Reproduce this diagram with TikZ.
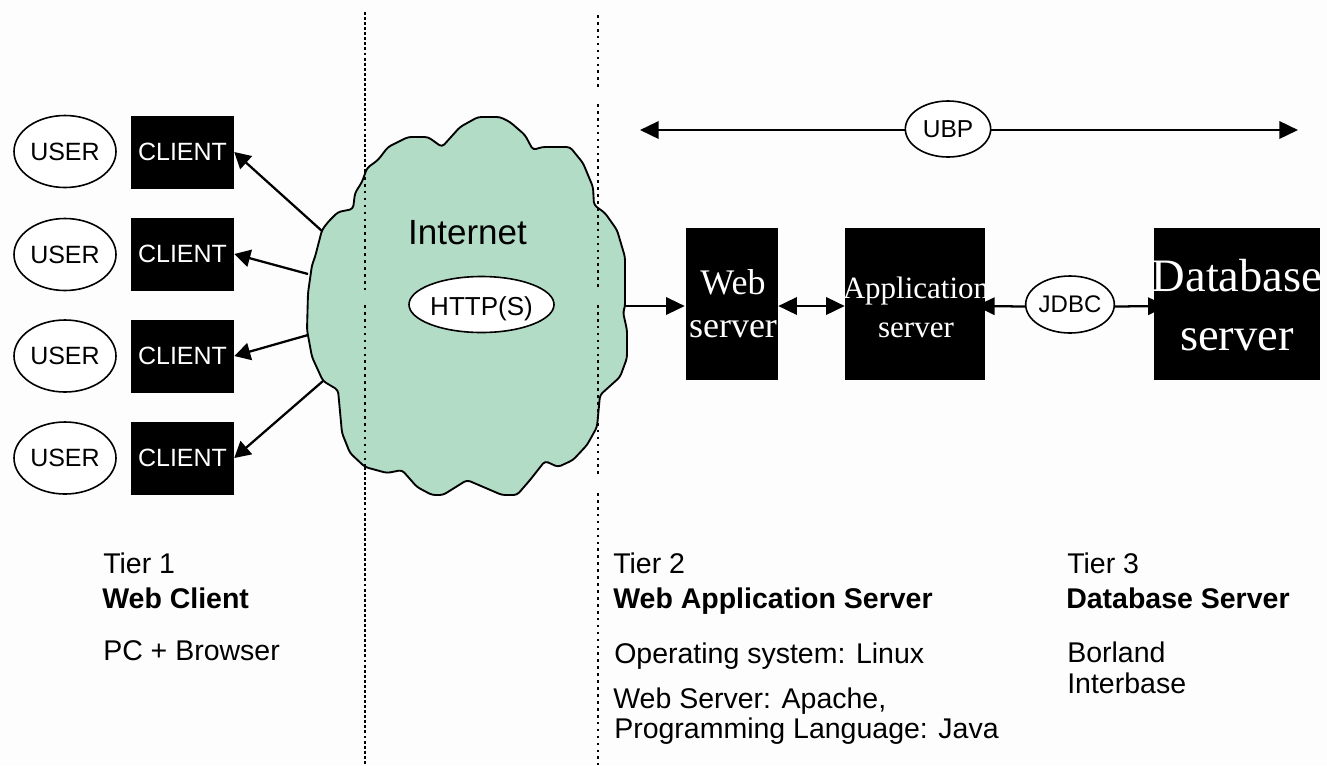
\documentclass[tikz,border=0pt]{standalone}
\usepackage{fontspec}
\setmainfont{Liberation Sans}
\newfontfamily\serifbox{Liberation Serif}
\usetikzlibrary{shapes.geometric,arrows.meta,calc}
\newcommand{\fsz}[1]{\fontsize{\dimexpr#1pt*3/4\relax}{\dimexpr#1pt*9/10\relax}\selectfont}
\definecolor{cloudgreen}{HTML}{B2DCC6}
\definecolor{paper}{HTML}{FDFDFD}
\tikzset{
  oval/.style={draw=black,line width=1.2pt,fill=white,ellipse,inner sep=0pt,text=black},
  blackbox/.style={draw=none,fill=black,rectangle,inner sep=0pt,text=white},
  clientbox/.style={blackbox,minimum width=77.25pt,minimum height=54.75pt,font=\fsz{25}},
  useroval/.style={oval,minimum width=76.5pt,minimum height=54pt,font=\fsz{25}},
  link/.style={line width=1.7pt,draw=black,-{Triangle[length=12pt,width=13pt]}},
  rowlink/.style={line width=1.7pt,draw=black,-{Triangle[length=14pt,width=13pt]}},
  biglink/.style={line width=1.9pt,draw=black,{Triangle[length=14pt,width=13pt]}-{Triangle[length=14pt,width=13pt]}},
  dividerwide/.style={draw=black,line width=1.6pt,dash pattern=on 2pt off 3.2pt},
  dividerdense/.style={draw=black,line width=1.6pt,dash pattern=on 2.2pt off 1.6pt},
  caption/.style={anchor=base west,inner sep=0pt,font=\fsz{28.5}},
  captionb/.style={caption,font=\fsz{28.5}\bfseries},
  boxlabel/.style={text=white,align=center,inner sep=0pt},
}
\begin{document}
\begin{tikzpicture}[x=0.75pt,y=-0.75pt]
\useasboundingbox (0,0) rectangle (1327,765);
\fill[paper] (0,0) rectangle (1327,765);
% cloud
\filldraw[fill=cloudgreen,draw=black,line width=1.4pt,rounded corners=2.5pt]
 (322,230)--(328,222)--(338,212)--(353,209)--(355,193)--(362,182)--(367,168)--(378,160)--(388,147)
 --(408,137)--(428,137)--(442,147)--(460,127)--(478,117)--(500,117)--(510,122)--(525,135)--(533,150)
 --(542,147)--(570,147)--(583,163)--(593,187)--(594,205)--(605,213)--(617,230)--(625,257)--(625,307)
 --(623,312)--(627,330)--(627,358)--(620,377)--(600,395)--(597,427)--(587,445)--(573,460)--(558,467)
 --(545,461)--(530,480)--(517,495)--(502,495)--(467,480)--(443,495)--(432,495)--(417,487)--(402,470)
 --(387,473)--(365,467)--(350,453)--(342,433)--(338,390)--(323,381)--(312,357)--(307,330)--(308,293)
 --(312,265)--(315,257)--cycle;
% dividers
\coordinate (d1a) at (365,12);  \coordinate (d1b) at (365,170);
\coordinate (d1c) at (365,290); \coordinate (d1d) at (365,305);
\coordinate (d1e) at (365,467); \coordinate (d1f) at (365,765);
\coordinate (d2a) at (598,15);  \coordinate (d2b) at (598,90);
\coordinate (d2c) at (598,104); \coordinate (d2d) at (598,290);
\coordinate (d2e) at (598,305); \coordinate (d2f) at (598,478);
\coordinate (d2g) at (598,493); \coordinate (d2h) at (598,765);
\draw[dividerdense] (d1a) -- (d1b);
\draw[dividerwide] (d1b) -- (d1c);
\draw[dividerwide] (d1d) -- (d1e);
\draw[dividerdense] (d1e) -- (d1f);
\draw[dividerwide] (d2a) -- (d2b);
\draw[dividerwide] (d2c) -- (d2d);
\draw[dividerwide] (d2e) -- (d2f);
\draw[dividerwide] (d2g) -- (d2h);
% clients
\node[useroval] (u1) at (65,151.5) {USER};
\node[useroval] (u2) at (65,254.5) {USER};
\node[useroval] (u3) at (65,356) {USER};
\node[useroval] (u4) at (65,458) {USER};
\node[clientbox] (c1) at (182.5,152) {CLIENT};
\node[clientbox] (c2) at (182.5,254) {CLIENT};
\node[clientbox] (c3) at (182.5,356) {CLIENT};
\node[clientbox] (c4) at (182.5,458) {CLIENT};
\coordinate (a1) at (322,231); \coordinate (a2) at (308,274);
\coordinate (a3) at (308,335); \coordinate (a4) at (323,381);
\draw[link] (a1) -- (c1.east);
\draw[link] (a2) -- (c2.east);
\draw[link] (a3) -- (c3.east);
\draw[link] (a4) -- (c4.east);
% internet
\node[inner sep=0pt,font=\fsz{35}] (inet) at (467.5,233) {Internet};
\node[oval,minimum width=86pt,minimum height=42pt,font=\fsz{26},text height=17.2pt,text depth=0pt] (http) at (481.5,304.5) {HTTP(S)};
% UBP
\coordinate (ubpl) at (640,130); \coordinate (ubpr) at (1298,130);
\draw[biglink] (ubpl) -- (ubpr);
\node[oval,minimum width=64pt,minimum height=42pt,font=\fsz{24.5}] (ubp) at (948,129) {UBP};
% servers
\coordinate (cloudout) at (625,306);
\node[oval,minimum width=64.5pt,minimum height=42.75pt,font=\fsz{24}] (jdbc) at (1070,304.5) {JDBC};
\node[blackbox,minimum width=69pt,minimum height=114pt,path picture={
  \node[boxlabel,font=\serifbox\fsz{36}] at ([xshift=0.75pt]path picture bounding box.center) {Web\\server};
}] (web) at (732,304) {};
\node[blackbox,minimum width=105pt,minimum height=114pt,path picture={
  \node[boxlabel,font=\serifbox\fsz{31}] at ([xshift=0.75pt,yshift=-2.5pt]path picture bounding box.center) {Application\\[1.5pt]server};
}] (app) at (915,304) {};
\node[blackbox,minimum width=125pt,minimum height=114pt,path picture={
  \node[boxlabel,font=\serifbox\fsz{46.5}] at ([yshift=-1pt]path picture bounding box.center) {Database\\[2.5pt]server};
}] (db) at (1237,304) {};
% row connectors
\draw[rowlink] (cloudout) -- ([xshift=-0.75pt,yshift=-1.5pt]web.west);
\draw[biglink] ([yshift=-1.5pt]web.east) -- ([yshift=-1.5pt]app.west);
\draw[rowlink] ([yshift=-1.5pt]jdbc.west) -- ([xshift=-7pt,yshift=-1.5pt]app.east);
\draw[rowlink] ([yshift=-1.5pt]jdbc.east) -- ([xshift=10pt,yshift=-1.5pt]db.west);
% captions
\node[caption] (t1a) at (103,573) {Tier 1};
\node[captionb] (t1b) at (102,608) {Web Client};
\node[caption] (t1c) at (103,660) {PC + Browser};
\node[caption] (t2a) at (613,573) {Tier 2};
\node[captionb] (t2b) at (613,608) {Web Application Server};
\node[caption] (t2c) at (614,663) {Operating system: Linux};
\node[caption] (t2d) at (613,708) {Web Server: Apache,};
\node[caption] (t2e) at (614,738) {Programming Language: Java};
\node[caption] (t3a) at (1067,573) {Tier 3};
\node[captionb] (t3b) at (1066,608) {Database Server};
\node[caption] (t3c) at (1067,662) {Borland};
\node[caption] (t3d) at (1067,693) {Interbase};
\end{tikzpicture}
\end{document}
